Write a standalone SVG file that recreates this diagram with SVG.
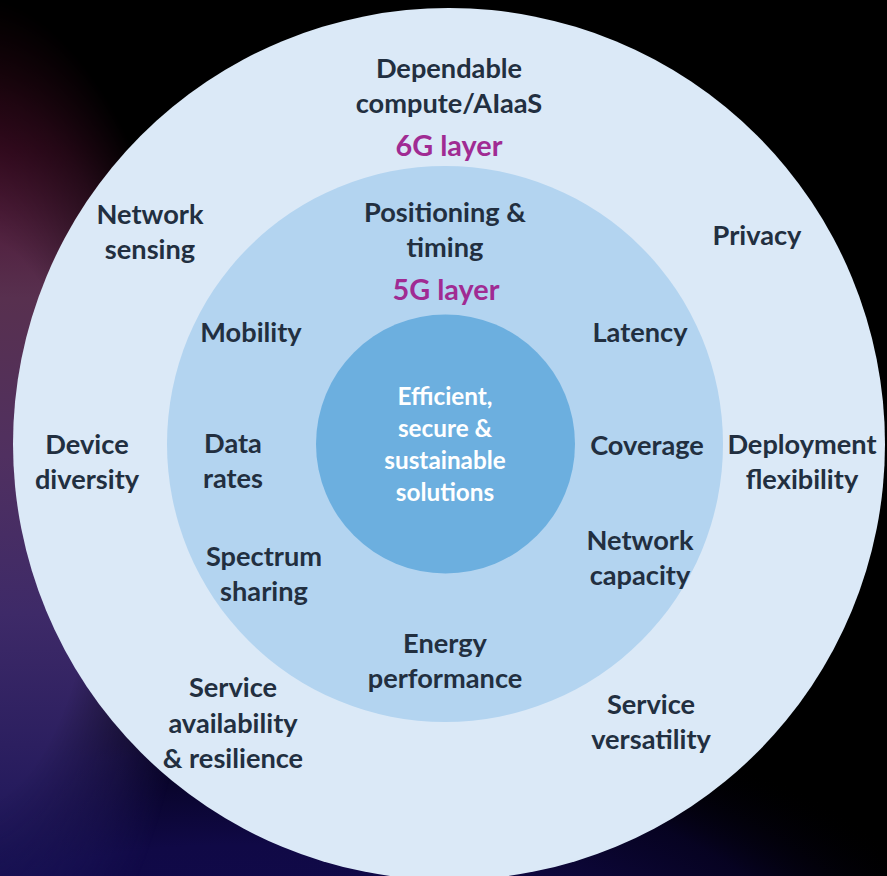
<svg xmlns="http://www.w3.org/2000/svg" width="887" height="876" viewBox="0 0 887 876">
<style>
text{font-family:Lato,"Open Sans","Liberation Sans",sans-serif;font-weight:700;font-size:27.2px;text-anchor:middle;fill:#222f40}
.layer{fill:#a02b93;font-size:28.8px}
.core{fill:#fff;font-size:24.3px}
</style>
<defs>
<linearGradient id="tint" gradientUnits="userSpaceOnUse" x1="0" y1="0" x2="0" y2="876">
<stop offset="0" stop-color="#300410"/><stop offset="0.17" stop-color="#4a0f2c"/><stop offset="0.34" stop-color="#58304f"/><stop offset="0.52" stop-color="#503060"/><stop offset="0.7" stop-color="#3e2a68"/><stop offset="1" stop-color="#1a1458"/>
</linearGradient>
<radialGradient id="fall" gradientUnits="userSpaceOnUse" cx="0" cy="0" r="1" gradientTransform="translate(-30 520) scale(250 570)">
<stop offset="0" stop-color="#fff"/><stop offset="0.5" stop-color="#fff"/><stop offset="0.75" stop-color="#777"/><stop offset="0.92" stop-color="#000"/>
</radialGradient>
<mask id="glow" maskUnits="userSpaceOnUse" x="0" y="0" width="887" height="876"><rect width="887" height="876" fill="url(#fall)"/></mask>
<radialGradient id="navy" gradientUnits="userSpaceOnUse" cx="0" cy="0" r="1" gradientTransform="translate(240 1010) scale(760 330)">
<stop offset="0" stop-color="#120b50"/><stop offset="0.5" stop-color="#100946"/><stop offset="0.78" stop-color="#070325" stop-opacity="0.9"/><stop offset="1" stop-color="#000" stop-opacity="0"/>
</radialGradient>
</defs>
<g id="background">
<rect width="887" height="876" fill="#000"/>
<rect width="887" height="876" fill="url(#navy)"/>
<rect width="887" height="876" fill="url(#tint)" mask="url(#glow)"/>
</g>
<g id="layer-6g"><circle cx="449" cy="444" r="436" fill="#dbe9f7"/></g>
<g id="layer-5g"><circle cx="445" cy="444" r="278" fill="#b3d4f0"/></g>
<g id="core"><circle cx="445.500" cy="444" r="129.500" fill="#6cafdf"/>
<text class="core" x="445" y="405">Efficient,</text><text class="core" x="445" y="437">secure &amp;</text><text class="core" x="445" y="469">sustainable</text><text class="core" x="445" y="501">solutions</text></g>
<g id="connectors"></g>
<g id="n1"><text x="449" y="77.500">Dependable</text><text x="449" y="112.500">compute/AIaaS</text></g>
<g id="n2"><text class="layer" x="449" y="156">6G layer</text></g>
<g id="n3"><text x="445" y="221.500">Positioning &amp;</text><text x="445" y="256.500">timing</text></g>
<g id="n4"><text class="layer" x="446" y="300">5G layer</text></g>
<g id="n5"><text x="150" y="223.500">Network</text><text x="150" y="258.500">sensing</text></g>
<g id="n6"><text x="757" y="244.500">Privacy</text></g>
<g id="n7"><text x="251" y="341.500">Mobility</text></g>
<g id="n8"><text x="640" y="341.500">Latency</text></g>
<g id="n9"><text x="87" y="453.500">Device</text><text x="87" y="488.500">diversity</text></g>
<g id="n10"><text x="233" y="452.500">Data</text><text x="233" y="487.500">rates</text></g>
<g id="n11"><text x="647" y="454.500">Coverage</text></g>
<g id="n12"><text x="802" y="453.500">Deployment</text><text x="802" y="488.500">flexibility</text></g>
<g id="n13"><text x="264" y="565.500">Spectrum</text><text x="264" y="600.500">sharing</text></g>
<g id="n14"><text x="640" y="549.500">Network</text><text x="640" y="584.500">capacity</text></g>
<g id="n15"><text x="445" y="652.500">Energy</text><text x="445" y="687.500">performance</text></g>
<g id="n16"><text x="233" y="696.500">Service</text><text x="233" y="732.500">availability</text><text x="233" y="767.500">&amp; resilience</text></g>
<g id="n17"><text x="651" y="713.500">Service</text><text x="651" y="748.500">versatility</text></g>
</svg>
